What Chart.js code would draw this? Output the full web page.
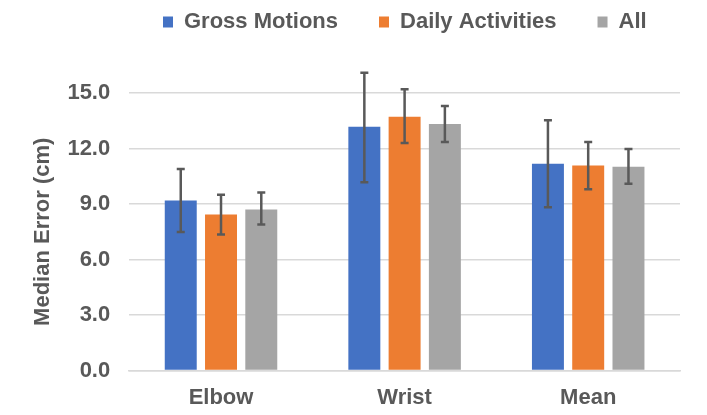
<!DOCTYPE html>
<html>
<head>
<meta charset="utf-8">
<script src="https://cdn.jsdelivr.net/npm/chart.js@4/dist/chart.umd.min.js"></script>
<style>
  html, body { margin: 0; padding: 0; background: #fff; }
  #wrap { width: 707px; height: 415px; }
</style>
</head>
<body>
<div id="wrap"><canvas id="chart" width="707" height="415"></canvas></div>
<script>
// values
var joints = ['Elbow', 'Wrist', 'Mean'];
var grossMotions = [9.19, 13.17, 11.18];
var dailyActivities = [8.44, 13.71, 11.08];
var allMotions = [8.71, 13.33, 11.02];

// error bar ends [low, high]
var grossErr = [[7.49, 10.9], [10.18, 16.1], [8.83, 13.53]];
var dailyErr = [[7.35, 9.5], [12.3, 15.2], [9.8, 12.35]];
var allErr = [[7.89, 9.62], [12.35, 14.3], [10.09, 11.97]];

var textColor = '#595959';
var fontName = 'Liberation Sans, Arial, sans-serif';
var legendPad = 41;

var errorBars = {
    id: 'errorBars',
    afterDatasetsDraw: function (chart) {
        var ctx = chart.ctx;
        var y = chart.scales.y;
        ctx.save();
        ctx.strokeStyle = '#595959';
        ctx.lineWidth = 2.5;
        chart.data.datasets.forEach(function (ds, i) {
            var meta = chart.getDatasetMeta(i);
            meta.data.forEach(function (bar, j) {
                var lo = y.getPixelForValue(ds.errors[j][0]);
                var hi = y.getPixelForValue(ds.errors[j][1]);
                var x = bar.x;
                ctx.beginPath();
                ctx.moveTo(x, lo); ctx.lineTo(x, hi);
                ctx.moveTo(x - 4, lo); ctx.lineTo(x + 4, lo);
                ctx.moveTo(x - 4, hi); ctx.lineTo(x + 4, hi);
                ctx.stroke();
            });
        });
        ctx.restore();
    }
};

// move the legend up to the top edge, like the original
var legendSpot = {
    id: 'legendSpot',
    afterLayout: function (chart) {
        var lg = chart.legend;
        var h = lg.height;
        lg.top = 22 - legendPad - 11;
        lg.bottom = lg.top + h;
        var w = lg.width;
        lg.left = 163 - legendPad;
        lg.right = lg.left + w;
    }
};

var ctx = document.getElementById('chart');
var myChart = new Chart(ctx, {
    type: 'bar',
    data: {
        labels: joints,
        datasets: [
            { label: 'Gross Motions', data: grossMotions, errors: grossErr, backgroundColor: '#4472c4' },
            { label: 'Daily Activities', data: dailyActivities, errors: dailyErr, backgroundColor: '#ed7d31' },
            { label: 'All', data: allMotions, errors: allErr, backgroundColor: '#a5a5a5' }
        ]
    },
    options: {
        responsive: false,
        animation: false,
        categoryPercentage: 0.658,
        barPercentage: 0.794,
        layout: { padding: { left: 26, right: 27, top: 20, bottom: -2 } },
        plugins: {
            legend: {
                position: 'top',
                align: 'start',
                labels: {
                    color: textColor,
                    font: { family: fontName, size: 22, weight: 'bold' },
                    boxWidth: 10,
                    boxHeight: 11,
                    padding: legendPad
                }
            },
            tooltip: { enabled: false }
        },
        scales: {
            x: {
                grid: { display: false },
                border: { color: '#d9d9d9', width: 1.5 },
                ticks: {
                    color: textColor,
                    padding: 6,
                    font: { family: fontName, size: 22, weight: 'bold' }
                }
            },
            y: {
                min: 0,
                max: 15,
                ticks: {
                    stepSize: 3,
                    color: textColor,
                    padding: 19,
                    font: { family: fontName, size: 22, weight: 'bold' },
                    callback: function (v) { return v.toFixed(1); }
                },
                grid: { color: '#d9d9d9', lineWidth: 1.5, drawTicks: false },
                border: { display: false },
                title: {
                    display: true,
                    text: 'Median Error (cm)',
                    color: textColor,
                    font: { family: fontName, size: 22, weight: 'bold' },
                    padding: { top: 4, bottom: -8 }
                }
            }
        }
    },
    plugins: [errorBars, legendSpot]
});
</script>
</body>
</html>
